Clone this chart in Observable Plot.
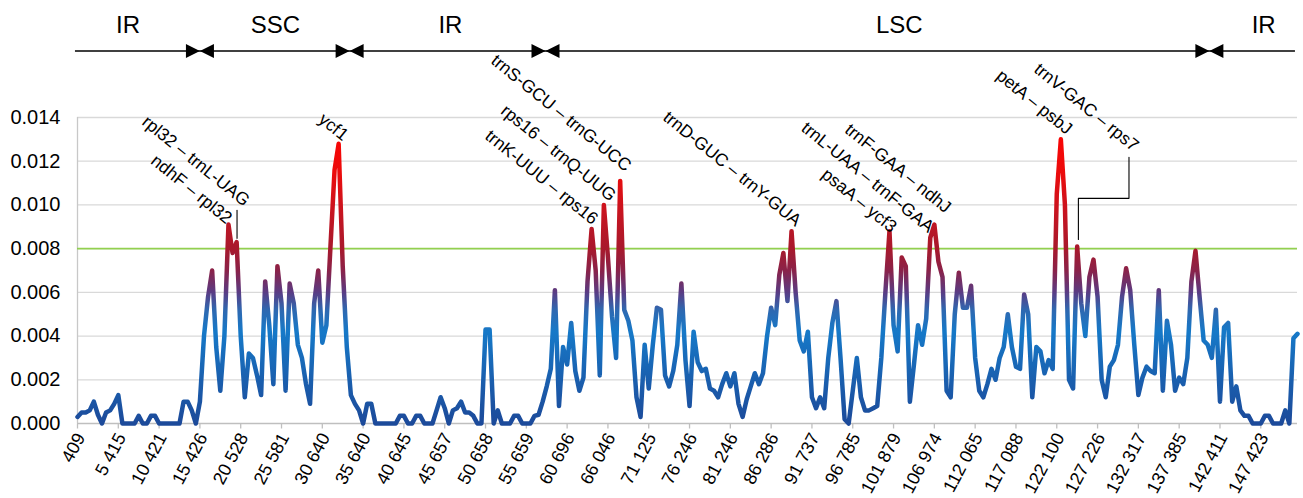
<!DOCTYPE html>
<html>
<head>
<meta charset="utf-8">
<script src="https://cdn.jsdelivr.net/npm/d3@7"></script>
<script src="https://cdn.jsdelivr.net/npm/@observablehq/plot@0.6"></script>
<style>
  html, body { margin: 0; padding: 0; background: #fff; }
  svg { display: block; }
</style>
</head>
<body>
<div id="chart"></div>
<script>
// ---- data ----
// nucleotide diversity (Pi) per sliding window, 10 windows per labelled tick
const piValues = [
  0.0003, 0.0005, 0.0005, 0.0006, 0.0010, 0.0004, 0, 0.0005, 0.0006, 0.0009,
  0.0013, 0, 0, 0, 0, 0.00035, 0, 0, 0.00035, 0.00035,
  0, 0, 0, 0, 0, 0, 0.0010, 0.0010, 0.0006, 0,
  0.0010, 0.0040, 0.0058, 0.0070, 0.0035, 0.0015, 0.0040, 0.0091, 0.0078, 0.0083,
  0.0040, 0.0012, 0.0032, 0.0030, 0.0022, 0.0013, 0.0065, 0.0045, 0.0018, 0.0072,
  0.0055, 0.0015, 0.0064, 0.0055, 0.0036, 0.0030, 0.0018, 0.0009, 0.0055, 0.0070,
  0.0037, 0.0045, 0.0081, 0.0116, 0.0128, 0.0072, 0.0035, 0.0013, 0.0009, 0.0006,
  0, 0.0009, 0.0009, 0, 0, 0, 0, 0, 0, 0.00035,
  0.00035, 0, 0, 0.00035, 0.00035, 0, 0, 0, 0.0006, 0.0012,
  0.0007, 0, 0.0006, 0.0007, 0.0010, 0.0005, 0.0005, 0.00035, 0, 0,
  0.0043, 0.0043, 0, 0.0006, 0, 0, 0, 0.00035, 0.00035, 0,
  0, 0, 0.00035, 0.0004, 0.0010, 0.0017, 0.0025, 0.0061, 0.0008, 0.0035,
  0.0027, 0.0046, 0.0024, 0.0015, 0.0021, 0.0065, 0.0089, 0.0070, 0.0022, 0.0100,
  0.0076, 0.0049, 0.0030, 0.0111, 0.0052, 0.0047, 0.0038, 0.0012, 0.0003, 0.0036,
  0.0016, 0.0036, 0.0053, 0.0052, 0.0022, 0.0017, 0.0024, 0.0036, 0.0064, 0.0029,
  0.0008, 0.0042, 0.0028, 0.0024, 0.0025, 0.0016, 0.0015, 0.0012, 0.0018, 0.0023,
  0.0017, 0.0023, 0.0009, 0.0003, 0.0011, 0.0017, 0.0023, 0.0018, 0.0023, 0.0040,
  0.0053, 0.0045, 0.0068, 0.0078, 0.0056, 0.0088, 0.0060, 0.0038, 0.0033, 0.0042,
  0.0012, 0.0007, 0.0012, 0.0007, 0.0030, 0.0046, 0.0056, 0.0030, 0.0002, 0,
  0.0015, 0.0030, 0.0012, 0.0006, 0.0006, 0.0007, 0.0008, 0.0030, 0.0060, 0.0088,
  0.0045, 0.0033, 0.0076, 0.0072, 0.0010, 0.0027, 0.0045, 0.0036, 0.0048, 0.0085,
  0.0091, 0.0074, 0.0067, 0.0015, 0.0012, 0.0050, 0.0069, 0.0053, 0.0053, 0.0063,
  0.0030, 0.0015, 0.0012, 0.0018, 0.0025, 0.0020, 0.0030, 0.0035, 0.0050, 0.0035,
  0.0026, 0.0025, 0.0059, 0.0050, 0.0012, 0.0035, 0.0033, 0.0023, 0.0029, 0.0025,
  0.0105, 0.0130, 0.0100, 0.0020, 0.0016, 0.0081, 0.0055, 0.0040, 0.0067, 0.0075,
  0.0058, 0.0020, 0.0012, 0.0026, 0.0029, 0.0036, 0.0058, 0.0071, 0.0061, 0.0036,
  0.0013, 0.0021, 0.0026, 0.0024, 0.0023, 0.0061, 0.0015, 0.0047, 0.0036, 0.0015,
  0.0021, 0.0018, 0.0030, 0.0065, 0.0079, 0.0058, 0.0038, 0.0036, 0.0030, 0.0052,
  0.0010, 0.0044, 0.0046, 0.0010, 0.0017, 0.0006, 0.00035, 0.00035, 0, 0,
  0, 0.00035, 0.00035, 0, 0, 0, 0.0006, 0, 0.0039, 0.0041
];
const windowsPerTick = 10;
const tickLabels = ["409","5 415","10 421","15 426","20 528","25 581","30 640","35 640",
  "40 645","45 657","50 658","55 659","60 696","66 046","71 125","76 246","81 246",
  "86 286","91 737","96 785","101 879","106 974","112 065","117 088","122 100",
  "127 226","132 317","137 385","142 411","147 423"];
const yTicks = [0, 0.002, 0.004, 0.006, 0.008, 0.010, 0.012, 0.014];
const threshold = 0.008;

// genome regions (x in window-index units)
const regionNames = ["IR", "SSC", "IR", "LSC", "IR"];
const regionLabelX = [12.4, 48.5, 91.4, 201.4, 290.7];
const regionBounds = [30, 66.7, 114.7, 277.4];
const regionSpan = [-0.5, 298.5];

// hotspot annotations (x: window index, y: Pi value at label end)
const annLabels = ["rpl32 – trnL-UAG", "ndhF – rpl32", "ycf1", "trnS-GCU – trnG-UCC",
  "rps16 – trnQ-UUG", "trnK-UUU – rps16", "trnD-GUC – trnY-GUA", "psaA – ycf3",
  "trnL-UAA – trnF-GAA", "trnF-GAA – ndhJ", "petA – psbJ", "trnV-GAC – rps7"];
const annX = [41.6, 37.3, 65.8, 135.1, 131.4, 127.0, 176.8, 200.2, 209.3, 213.5, 243.2, 259.5];
const annY = [0.0101, 0.0093, 0.0131, 0.0117, 0.01033, 0.00926, 0.00918, 0.0089, 0.0089, 0.0098, 0.01339, 0.01262];

// leader lines
const leaderId = ["a", "a", "b", "b", "b", "b"];
const leaderX = [39.1, 39.1, 257.7, 257.7, 245.3, 245.3];
const leaderY = [0.00975, 0.00847, 0.01218, 0.0103, 0.0103, 0.00842];

// colour gradient of the line by value
const gradValues = [0, 0.002, 0.0042, 0.0052, 0.006, 0.007, 0.008, 0.0095, 0.0115, 0.014];
const gradColors = ["#1c4a9a", "#1a5fae", "#1679c8", "#2f68b0", "#5a3c84", "#8a2249", "#a8192c", "#c41522", "#ec0c0c", "#ff0000"];

// ---- build ----
const data = piValues.map((v, i) => ({ i, v }));
const tickIndex = tickLabels.map((_, k) => k * windowsPerTick);
const yMax = yTicks[yTicks.length - 1];
const font = "'Liberation Sans', Arial, Helvetica, sans-serif";

const tickSymbol = { draw(ctx) { ctx.moveTo(0, 0); ctx.lineTo(0, 5); } };
const triRight = { draw(ctx) { ctx.moveTo(0, 0); ctx.lineTo(-14, -7); ctx.lineTo(-14, 7); ctx.closePath(); } };
const triLeft = { draw(ctx) { ctx.moveTo(0, 0); ctx.lineTo(14, -7); ctx.lineTo(14, 7); ctx.closePath(); } };

const topDy = -66.5;

const chart = Plot.plot({
  width: 1303,
  height: 498,
  marginLeft: 77,
  marginRight: 6,
  marginTop: 117,
  marginBottom: 75,
  x: { domain: [0, piValues.length - 1], axis: null },
  y: { domain: [0, yMax], axis: null },
  style: { fontFamily: font, background: "#fff", overflow: "visible", color: "#000" },
  marks: [
    Plot.ruleY(yTicks.slice(1), { stroke: "#d9d9d9", strokeWidth: 1.3 }),
    Plot.ruleX([0], { stroke: "#c8c8c8", strokeWidth: 1.3 }),
    Plot.ruleY([0], { stroke: "#bfbfbf", strokeWidth: 1.3 }),
    Plot.dot(tickIndex, { x: d => d, y: 0, symbol: tickSymbol, fill: "none", stroke: "#bfbfbf", strokeWidth: 1.3 }),
    Plot.text(yTicks, { x: 0, y: d => d, text: d => d3.format(".3f")(d), textAnchor: "end", dx: -17, fontSize: 20, fill: "#000" }),
    Plot.text(tickIndex, { x: d => d, y: 0, text: (d, k) => tickLabels[k], rotate: -62, textAnchor: "end", dx: 3, dy: 11, fontSize: 18, fill: "#000" }),
    Plot.ruleY([threshold], { stroke: "#92d050", strokeWidth: 1.6 }),
    Plot.line(data, { x: "i", y: "v", stroke: "url(#piGradient)", strokeWidth: 4.5, strokeLinejoin: "round", strokeLinecap: "round" }),
    // leaders
    Plot.line(leaderX, { x: d => d, y: (d, k) => leaderY[k], z: (d, k) => leaderId[k], stroke: "#000", strokeWidth: 1.1 }),
    // hotspot labels
    Plot.text(annLabels, { x: (d, k) => annX[k], y: (d, k) => annY[k], text: d => d, rotate: 39, textAnchor: "end", fontSize: 17.5, fill: "#000" }),
    // region bar
    Plot.ruleY([yMax], { x1: regionSpan[0], x2: regionSpan[1], dy: topDy, stroke: "#000", strokeWidth: 1.3 }),
    Plot.dot(regionBounds, { x: d => d, y: yMax, dy: topDy, symbol: triRight, fill: "#000", stroke: "none" }),
    Plot.dot(regionBounds, { x: d => d, y: yMax, dy: topDy, symbol: triLeft, fill: "#000", stroke: "none" }),
    Plot.text(regionNames, { x: (d, k) => regionLabelX[k], y: yMax, dy: -92, text: d => d, fontSize: 24, fill: "#000" })
  ]
});

// vertical gradient in user space, following the y scale
const yRange = chart.scale("y").range;
const grad = d3.select(chart).insert("defs", ":first-child")
  .append("linearGradient")
  .attr("id", "piGradient")
  .attr("gradientUnits", "userSpaceOnUse")
  .attr("x1", 0).attr("x2", 0)
  .attr("y1", yRange[0]).attr("y2", yRange[1]);
gradValues.forEach((v, k) => {
  grad.append("stop").attr("offset", v / yMax).attr("stop-color", gradColors[k]);
});

document.getElementById("chart").appendChild(chart);
</script>
</body>
</html>
